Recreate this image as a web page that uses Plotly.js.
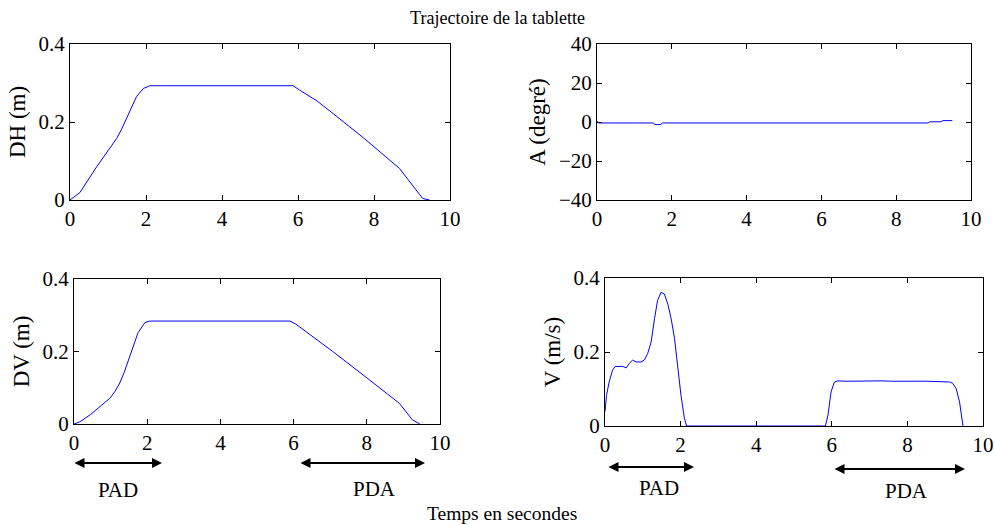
<!DOCTYPE html>
<html>
<head>
<meta charset="utf-8">
<script src="https://cdn.plot.ly/plotly-3.0.1.min.js"></script>
<style>body{margin:0;background:#fff}#plot{width:995px;height:525px}</style>
</head>
<body>
<div id="plot"></div>
<script>
// ---- Data ----
const dhTime = [0, 0.26, 0.7, 1.0, 1.23, 1.35, 1.49, 1.62, 1.75, 1.93, 2.1, 3.0, 4.0, 5.0, 5.87, 6.04, 6.5, 6.92, 7.79, 8.67, 9.19, 9.28, 9.46];
const dhValue = [0, 0.019, 0.085, 0.128, 0.158, 0.18, 0.209, 0.238, 0.265, 0.286, 0.293, 0.293, 0.293, 0.293, 0.293, 0.282, 0.254, 0.222, 0.154, 0.081, 0.017, 0.004, 0];

const aTime = [0, 0.05, 1.0, 1.5, 1.55, 1.7, 1.75, 3.0, 5.0, 7.0, 8.85, 8.9, 9.2, 9.25, 9.5];
const aValue = [0.4, -0.5, -0.5, -0.5, -1.3, -1.3, -0.5, -0.5, -0.5, -0.5, -0.5, 0.1, 0.1, 0.7, 0.7];

const dvTime = [0, 0.16, 0.45, 0.71, 0.98, 1.12, 1.25, 1.37, 1.48, 1.62, 1.75, 1.94, 2.07, 3.0, 4.0, 5.0, 5.9, 6.07, 7.07, 7.98, 8.89, 9.25, 9.39, 9.45];
const dvValue = [0, 0.006, 0.026, 0.048, 0.071, 0.09, 0.113, 0.142, 0.173, 0.214, 0.252, 0.28, 0.284, 0.284, 0.284, 0.284, 0.284, 0.275, 0.2, 0.129, 0.057, 0.011, 0.002, 0];

const vTime = [0, 0.04, 0.11, 0.2, 0.27, 0.38, 0.47, 0.56, 0.64, 0.73, 0.82, 0.95, 1.04, 1.13, 1.22, 1.31, 1.39, 1.48, 1.57, 1.66, 1.75, 1.84, 1.92, 2.01, 2.1, 2.16, 3.0, 4.0, 5.0, 5.83, 5.9, 5.98, 6.07, 6.16, 6.4, 6.7, 7.0, 7.3, 7.6, 7.9, 8.2, 8.5, 8.8, 9.12, 9.2, 9.29, 9.38, 9.45, 9.47];
const vValue = [0.039, 0.083, 0.119, 0.151, 0.161, 0.16, 0.161, 0.157, 0.169, 0.178, 0.173, 0.173, 0.178, 0.196, 0.227, 0.29, 0.339, 0.361, 0.357, 0.33, 0.29, 0.236, 0.164, 0.083, 0.021, 0, 0, 0, 0, 0, 0.03, 0.092, 0.119, 0.122, 0.121, 0.122, 0.121, 0.122, 0.121, 0.122, 0.121, 0.121, 0.12, 0.119, 0.115, 0.101, 0.065, 0.021, 0];

const xTicks = [0, 2, 4, 6, 8, 10];
const distTicks = [0, 0.2, 0.4];
const angleTicks = [-40, -20, 0, 20, 40];

// ---- Layout helpers ----
const W = 995, H = 525;
const px = x => x / W;
const py = y => 1 - y / H;
const FONT = "'Liberation Serif', serif";

function xa(x0, x1, anchor) {
  return {domain: [px(x0), px(x1)], anchor: anchor, range: [0, 10], tickvals: xTicks,
    ticks: 'inside', ticklen: 5, tickcolor: '#000', showline: true, linecolor: '#000', linewidth: 1,
    mirror: 'ticks', showgrid: false, zeroline: false, fixedrange: true,
    tickfont: {family: FONT, size: 21, color: '#000'}};
}
function ya(y0, y1, anchor, range, ticks, title) {
  return {domain: [py(y1), py(y0)], anchor: anchor, range: range, tickvals: ticks,
    ticks: 'inside', ticklen: 5, tickcolor: '#000', showline: true, linecolor: '#000', linewidth: 1,
    mirror: 'ticks', showgrid: false, zeroline: false, fixedrange: true,
    tickfont: {family: FONT, size: 21, color: '#000'},
    title: {text: title, font: {family: FONT, size: 23, color: '#000'}, standoff: 6}};
}

const line = {color: '#0000ff', width: 1};
const traces = [
  {x: dhTime, y: dhValue, xaxis: 'x', yaxis: 'y', mode: 'lines', line: line, hoverinfo: 'skip'},
  {x: aTime, y: aValue, xaxis: 'x2', yaxis: 'y2', mode: 'lines', line: line, hoverinfo: 'skip'},
  {x: dvTime, y: dvValue, xaxis: 'x3', yaxis: 'y3', mode: 'lines', line: line, hoverinfo: 'skip'},
  {x: vTime, y: vValue, xaxis: 'x4', yaxis: 'y4', mode: 'lines', line: line, hoverinfo: 'skip'}
];

function arrow(x0, x1, y) {
  return {xref: 'paper', yref: 'paper', axref: 'paper', ayref: 'paper',
    x: px(x1), y: py(y), ax: px(x0), ay: py(y), text: '', showarrow: true,
    arrowside: 'end+start', arrowhead: 2, arrowsize: 1, arrowwidth: 2, arrowcolor: '#000'};
}
function label(text, x, y, size) {
  return {xref: 'paper', yref: 'paper', x: px(x), y: py(y), text: text, showarrow: false,
    xanchor: 'center', yanchor: 'middle', font: {family: FONT, size: size, color: '#000'}};
}

const layout = {
  width: W, height: H, margin: {l: 0, r: 0, t: 0, b: 0},
  paper_bgcolor: '#fff', plot_bgcolor: '#fff', showlegend: false,
  font: {family: FONT, color: '#000'},
  title: {text: 'Trajectoire de la tablette', x: 0.5, xanchor: 'center', y: py(18), yanchor: 'middle',
    font: {family: FONT, size: 18, color: '#000'}},
  xaxis: xa(70, 450, 'y'),
  yaxis: ya(44, 200, 'x', [0, 0.4], distTicks, 'DH (m)'),
  xaxis2: xa(597, 971, 'y2'),
  yaxis2: ya(44, 200, 'x2', [-40, 40], angleTicks, 'A (degré)'),
  xaxis3: xa(74, 440, 'y3'),
  yaxis3: ya(279, 424, 'x3', [0, 0.4], distTicks, 'DV (m)'),
  xaxis4: xa(605, 983, 'y4'),
  yaxis4: ya(278, 426, 'x4', [0, 0.4], distTicks, 'V (m/s)'),
  annotations: [
    arrow(73, 162, 463), label('PAD', 118, 490, 21),
    arrow(299, 425, 463), label('PDA', 374, 489, 21),
    arrow(607, 694, 467), label('PAD', 659, 488, 21),
    arrow(833, 965, 469), label('PDA', 906, 491, 21),
    label('Temps en secondes', 502, 513, 19.5)
  ]
};

Plotly.newPlot('plot', traces, layout, {staticPlot: true, displayModeBar: false});
</script>
</body>
</html>
